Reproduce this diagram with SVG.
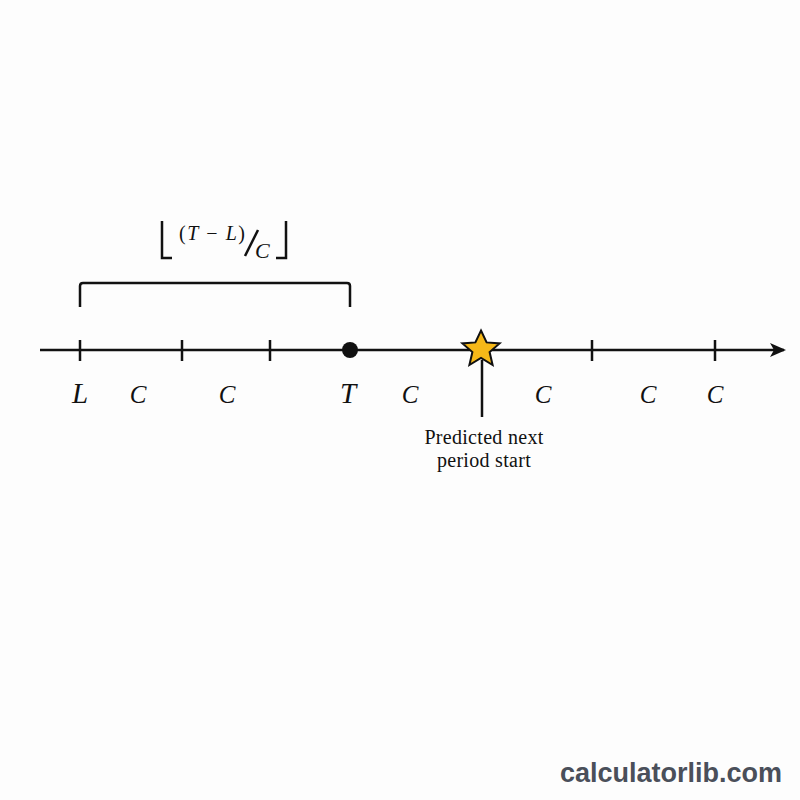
<svg xmlns="http://www.w3.org/2000/svg" width="800" height="800" viewBox="0 0 800 800">
<style>
.ln{stroke:#111;stroke-width:2.5;fill:none}
.tk{stroke:#111;stroke-width:2.5}
.m{font-family:"Liberation Serif","DejaVu Serif",serif;font-style:italic;fill:#111}
.t{font-family:"Liberation Serif","DejaVu Serif",serif;fill:#111}
</style>
<defs>
<marker id="ah" markerWidth="16" markerHeight="14" refX="14" refY="7" orient="auto" markerUnits="userSpaceOnUse">
<path d="M0,0 L16,7 L0,14 L4,7 Z" fill="#111"/>
</marker>
</defs>
<rect width="800" height="800" fill="#fdfdfd"/>
<g id="connectors">
<line class="ln" x1="40" y1="350" x2="784" y2="350" marker-end="url(#ah)"/>
<path class="ln" d="M80,307 V286 Q80,283 83,283 H347 Q350,283 350,286 V307" stroke-width="2"/>
<line class="ln" x1="482" y1="360" x2="482" y2="417" stroke-width="2.5"/>
</g>
<g id="ticks">
<line class="tk" x1="80" y1="340" x2="80" y2="361"/>
<line class="tk" x1="182" y1="340" x2="182" y2="361"/>
<line class="tk" x1="270" y1="340" x2="270" y2="361"/>
<line class="tk" x1="592" y1="340" x2="592" y2="361"/>
<line class="tk" x1="715" y1="340" x2="715" y2="361"/>
</g>
<g id="node-T">
<circle cx="350" cy="350" r="8" fill="#111"/>
<text class="m" x="348" y="403" font-size="29" text-anchor="middle">T</text>
</g>
<g id="node-L">
<text class="m" x="80" y="403" font-size="29" text-anchor="middle">L</text>
</g>
<g id="node-star">
<polygon points="481,330.5 486.6,342.4 499.6,343.4 489.6,352 492.6,365 481,358 469.4,365 472.4,352 462.4,343.4 475.4,342.4" fill="#f6b818" stroke="#111" stroke-width="2" stroke-linejoin="miter"/>
</g>
<g id="c-labels" class="m" font-size="25" text-anchor="middle">
<text x="138" y="403">C</text>
<text x="227" y="403">C</text>
<text x="410" y="403">C</text>
<text x="543" y="403">C</text>
<text x="648" y="403">C</text>
<text x="715" y="403">C</text>
</g>
<g id="formula">
<path class="ln" d="M162,221 V258 H172" stroke-width="2"/>
<path class="ln" d="M286,221 V258 H276" stroke-width="2"/>
<text class="t" x="179" y="240" font-size="20" textLength="66" lengthAdjust="spacing">(<tspan font-style="italic">T</tspan> − <tspan font-style="italic">L</tspan>)</text>
<line class="ln" x1="245" y1="256" x2="258" y2="230" stroke-width="1.6"/>
<text class="m" x="255" y="258" font-size="22">C</text>
</g>
<g id="annotation" class="t" font-size="20" text-anchor="middle" letter-spacing="0.3">
<text x="484" y="444">Predicted next</text>
<text x="484" y="467">period start</text>
</g>
<text x="782" y="782" text-anchor="end" font-family="Liberation Sans, Arial, sans-serif" font-weight="bold" font-size="27" fill="#4a4f5a">calculatorlib.com</text>
</svg>
